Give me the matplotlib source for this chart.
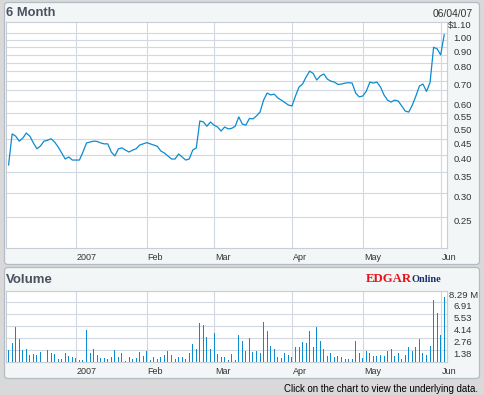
import matplotlib as mpl
mpl.use('Agg')
import matplotlib.pyplot as plt
import matplotlib.transforms as mtransforms
from matplotlib.patches import FancyBboxPatch
import numpy as np

plt.rcParams['font.family'] = ['Liberation Sans', 'DejaVu Sans']

W, H = 484, 395

# closing price per trading day, 12/04/06 .. 06/04/07
price = [0.370, 0.468, 0.460, 0.443, 0.453, 0.471, 0.460, 0.437, 0.418, 0.427,
         0.443, 0.446, 0.451, 0.440, 0.424, 0.405, 0.387, 0.393, 0.384, 0.384,
         0.384, 0.408, 0.437, 0.440, 0.443, 0.442, 0.437, 0.434, 0.434, 0.408,
         0.396, 0.418, 0.421, 0.414, 0.408, 0.414, 0.418, 0.430, 0.434, 0.438,
         0.434, 0.430, 0.426, 0.411, 0.405, 0.396, 0.387, 0.387, 0.402, 0.393,
         0.384, 0.387, 0.414, 0.421, 0.516, 0.512, 0.496, 0.512, 0.500, 0.493,
         0.478, 0.493, 0.486, 0.488, 0.496, 0.532, 0.504, 0.500, 0.526, 0.524,
         0.536, 0.552, 0.604, 0.637, 0.628, 0.632, 0.614, 0.604, 0.593, 0.582,
         0.578, 0.623, 0.667, 0.682, 0.719, 0.752, 0.739, 0.703, 0.725, 0.736,
         0.708, 0.697, 0.692, 0.680, 0.682, 0.687, 0.689, 0.687, 0.637, 0.619,
         0.623, 0.646, 0.692, 0.687, 0.692, 0.667, 0.628, 0.604, 0.595, 0.604,
         0.600, 0.578, 0.556, 0.552, 0.582, 0.623, 0.672, 0.682, 0.645, 0.690,
         0.900, 0.890, 0.850, 0.990]

# volume in millions
volume = [1.34, 2.15, 3.99, 2.61, 1.34, 1.46, 0.77, 0.88, 0.77, 1.11,
          2.61, 1.34, 1.00, 0.88, 0.31, 0.31, 1.00, 0.65, 0.54, 0.42,
          0.19, 0.19, 3.64, 1.00, 1.46, 0.77, 0.42, 0.42, 0.31, 0.54,
          1.34, 0.54, 1.00, 0.08, 0.54, 0.31, 0.42, 1.11, 0.65, 1.23,
          0.19, 0.54, 0.31, 0.54, 0.77, 1.23, 0.77, 0.31, 0.54, 0.54,
          0.31, 1.00, 2.03, 1.46, 4.56, 4.22, 2.84, 1.46, 3.30, 0.88,
          0.54, 0.54, 0.19, 0.88, 0.19, 3.07, 2.38, 1.23, 2.72, 1.11,
          1.23, 1.00, 4.68, 3.53, 1.80, 1.46, 0.54, 0.42, 1.00, 0.77,
          0.54, 1.69, 1.69, 2.26, 2.15, 3.53, 1.69, 3.99, 2.38, 1.46,
          0.65, 1.00, 0.54, 0.65, 0.54, 0.31, 0.31, 0.31, 2.38, 1.00,
          0.42, 1.23, 1.00, 0.65, 0.65, 0.77, 0.65, 1.23, 1.46, 0.65,
          1.00, 0.31, 0.77, 1.69, 1.23, 1.69, 2.61, 1.00, 0.77, 1.80,
          7.21, 5.71, 3.07, 7.55]

month_idx = [19, 39, 58, 80, 100, 122]
month_labels = ['2007', 'Feb', 'Mar', 'Apr', 'May', 'Jun']

price_grid = [0.25, 0.30, 0.35, 0.40, 0.45, 0.50, 0.55, 0.60, 0.65, 0.70,
              0.75, 0.80, 0.85, 0.90, 0.95, 1.00]
price_ticks = [0.25, 0.30, 0.35, 0.40, 0.45, 0.50, 0.55, 0.60, 0.70, 0.80, 0.90, 1.00, 1.10]
price_labels = ['0.25', '0.30', '0.35', '0.40', '0.45', '0.50', '0.55', '0.60',
                '0.70', '0.80', '0.90', '1.00', '$1.10']
vol_ticks = [1.38, 2.76, 4.14, 5.53, 6.91, 8.29]
vol_labels = ['1.38', '2.76', '4.14', '5.53', '6.91', '8.29 M']

line_blue = '#0b8bd0'
grid_c = '#d2d8e1'
text_c = '#333333'

fig = plt.figure(figsize=(W / 100, H / 100), dpi=100)
fig.patch.set_facecolor('#d9d9d9')


def fx(x):
    return x / W


def fy(y):
    return 1 - y / H


# rounded panels, drawn behind the axes
for x0, top, x1, bot in [(4.5, 2.5, 479.5, 264.5), (4.5, 267.5, 479.5, 378.5)]:
    box = FancyBboxPatch((fx(x0), fy(bot)), (x1 - x0) / W, (bot - top) / H,
                         boxstyle='round,pad=0,rounding_size=0.008',
                         transform=fig.transFigure,
                         facecolor='#f3f6f6', edgecolor='#b3bbc4', linewidth=0.9,
                         zorder=-10)
    fig.patches.append(box)

x = np.arange(len(price))
xlim = (-0.73, 123.7)

ax1 = fig.add_axes([fx(6), fy(247.7), (446.7 - 6) / W, (247.7 - 22) / H])
ax2 = fig.add_axes([fx(6), fy(361.7), (446.7 - 6) / W, (361.7 - 290.5) / H])

for ax in (ax1, ax2):
    ax.set_facecolor('white')
    ax.set_xlim(*xlim)
    ax.set_xticks([])
    ax.set_yticks([])
    for s in ax.spines.values():
        s.set_color('#c8ced8')
        s.set_linewidth(0.8)
    for m in month_idx:
        ax.axvline(m, color=grid_c, lw=0.8, zorder=1)

# price panel
ax1.set_yscale('log')
ax1.set_ylim(0.198, 1.09)
ax1.yaxis.set_major_locator(mpl.ticker.NullLocator())
ax1.yaxis.set_minor_locator(mpl.ticker.NullLocator())
for g in price_grid:
    ax1.axhline(g, color=grid_c, lw=0.8, zorder=1)
ax1.plot(x, price, color=line_blue, lw=0.9, zorder=3)

lab_tr = mtransforms.offset_copy(
    mtransforms.blended_transform_factory(fig.transFigure, ax1.transData),
    fig=fig, y=-5, units='dots')
for v, lab in zip(price_ticks, price_labels):
    ax1.text(fx(472), v, lab, transform=lab_tr, ha='right', va='center',
             fontsize=6.8, color=text_c, clip_on=False)

# volume panel
ax2.set_ylim(0, 8.29)
for g in vol_ticks:
    ax2.axhline(g, color=grid_c, lw=0.8, zorder=1)
ax2.bar(x, volume, width=0.28, color=line_blue, linewidth=0,
        antialiased=False, zorder=3)

vtr = mtransforms.offset_copy(
    mtransforms.blended_transform_factory(fig.transFigure, ax2.transData),
    fig=fig, y=-4.6, units='dots')
for v, lab in zip(vol_ticks, vol_labels):
    right = 478.5 if lab.endswith('M') else 472
    ax2.text(fx(right), v, lab, transform=vtr, ha='right', va='center',
             fontsize=6.8, color=text_c, clip_on=False)

# month labels
for ax, ypix in [(ax1, 257.3), (ax2, 371.7)]:
    mtr = mtransforms.offset_copy(
        mtransforms.blended_transform_factory(ax.transData, fig.transFigure),
        fig=fig, x=1.0, units='dots')
    for m, lab in zip(month_idx, month_labels):
        ax.text(m, fy(ypix), lab, transform=mtr, ha='left', va='center',
                fontsize=6.5, color=text_c, clip_on=False)

# header texts
fig.text(fx(6), fy(12.5), '6 Month', fontsize=9.3, fontweight='bold',
         color='#4a505e', ha='left', va='center')
fig.text(fx(472.5), fy(14), '06/04/07', fontsize=7.4, color=text_c,
         ha='right', va='center')
fig.text(fx(6), fy(280), 'Volume', fontsize=9.5, fontweight='bold',
         color='#4a505e', ha='left', va='center')

fig.text(fx(366), fy(282.5), 'EDGAR', fontsize=9.2, fontweight='bold',
         family='Liberation Serif', color='#e8141c', ha='left', va='baseline')
fig.text(fx(411), fy(282.5), 'Online', fontsize=7.4, fontweight='bold',
         family='Liberation Serif', color='#1b2f6e', ha='left', va='baseline')

fig.text(fx(478.5), fy(388.5), 'Click on the chart to view the underlying data.',
         fontsize=6.9, color='black', ha='right', va='center')

fig.savefig('out.png', dpi=100, facecolor=fig.get_facecolor())
